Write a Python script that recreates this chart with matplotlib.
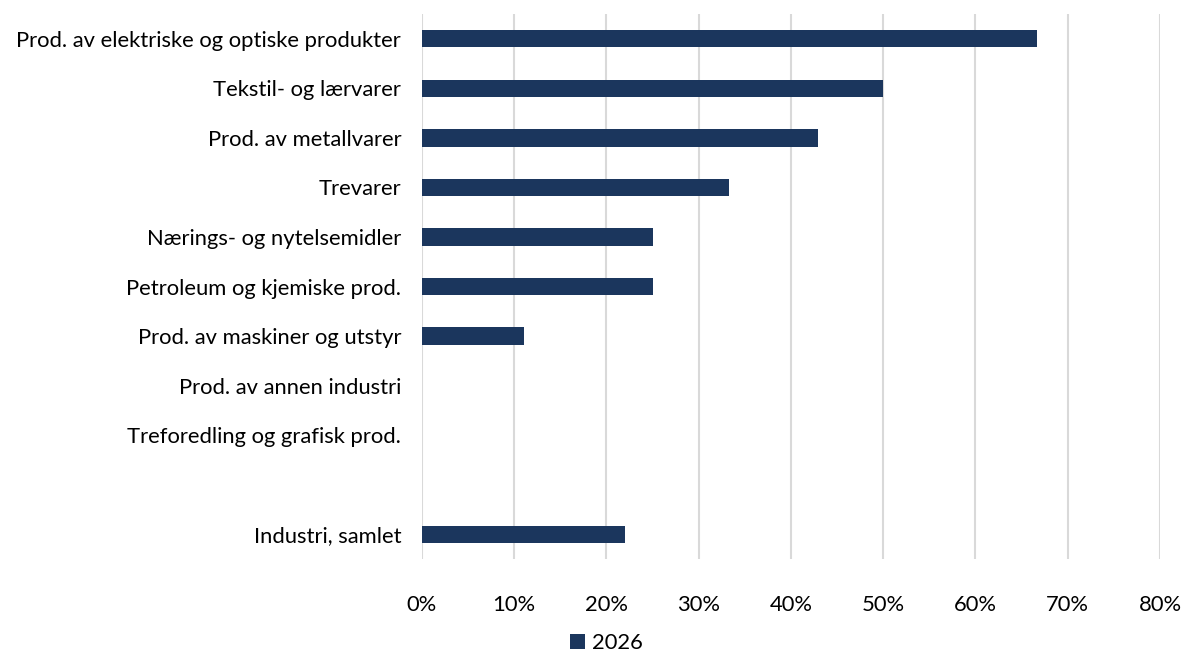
import matplotlib
matplotlib.use("Agg")
import matplotlib.pyplot as plt
import numpy as np
from matplotlib.ticker import PercentFormatter, MultipleLocator

categories = [
    "Prod. av elektriske og optiske produkter",
    "Tekstil- og lærvarer",
    "Prod. av metallvarer",
    "Trevarer",
    "Nærings- og nytelsemidler",
    "Petroleum og kjemiske prod.",
    "Prod. av maskiner og utstyr",
    "Prod. av annen industri",
    "Treforedling og grafisk prod.",
    "",
    "Industri, samlet",
]
values_2026 = [66.7, 50.0, 42.9, 33.3, 25.0, 25.0, 11.1, 0.0, 0.0, np.nan, 22.0]
series_label = "2026"

BAR = "#1b365d"
GRID = "#d9d9d9"
TEXT = "#000000"

plt.rcParams["font.family"] = ["Lato", "DejaVu Sans"]

fig = plt.figure(figsize=(11.84, 6.52), dpi=100)
ax = fig.add_axes([0.3564, 0.1426, 0.6233, 0.8359])

y = np.arange(len(categories))
ax.barh(y, values_2026, height=0.35, color=BAR, label=series_label, zorder=3)
ax.set_yticks(y)
ax.set_yticklabels(categories, fontsize=15.8, color=TEXT)
ax.set_ylim(len(categories) - 0.5, -0.5)

ax.set_xlim(0, 80)
ax.xaxis.set_major_locator(MultipleLocator(10))
ax.xaxis.set_major_formatter(PercentFormatter(decimals=0))
ax.tick_params(axis="x", labelsize=15.8, colors=TEXT, length=0, pad=26)
ax.tick_params(axis="y", length=0, pad=15)
ax.xaxis.grid(True, color=GRID, linewidth=1.5, zorder=0)
ax.set_axisbelow(True)
for s in ax.spines.values():
    s.set_visible(False)

fig.legend(*ax.get_legend_handles_labels(), loc="center", bbox_to_anchor=(606 / 1184, 1 - 643 / 652),
           frameon=False, fontsize=15.8, handlelength=0.7, handleheight=0.7, handletextpad=0.3,
           borderpad=0, borderaxespad=0)

fig.savefig("out.png", dpi=100)
